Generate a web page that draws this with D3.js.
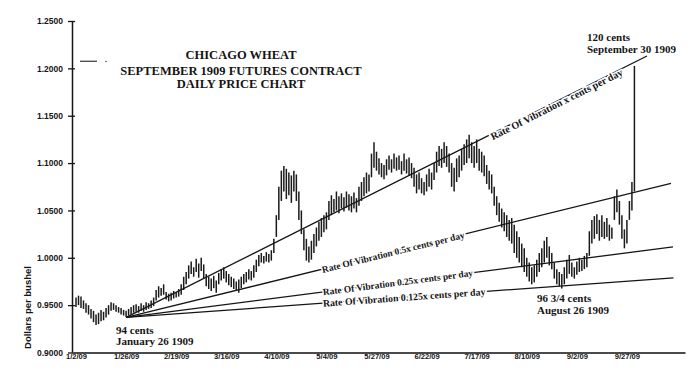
<!DOCTYPE html>
<html>
<head>
<meta charset="utf-8">
<script src="https://cdn.jsdelivr.net/npm/d3@7"></script>
<style>
  html, body { margin: 0; padding: 0; background: #fff; }
  svg { display: block; }
</style>
</head>
<body>
<script>
// ---- Data ----
const dateLabels = ["1/2/09","1/26/09","2/19/09","3/16/09","4/10/09","5/4/09","5/27/09","6/22/09","7/17/09","8/10/09","9/2/09","9/27/09"];
const dateIndex  = [0,20,40,60,80,100,120,140,160,180,200,220]; // trading-day index
const yTicks = [0.90,0.95,1.00,1.05,1.10,1.15,1.20,1.25];

// daily highs and lows, trading days 1/2/09 .. 9/30/09
const highs = [
 .958,.960,.959,.955,.952,.950,.946,.944,.940,.942,
 .945,.943,.947,.950,.953,.952,.950,.948,.947,.945,
 .944,.946,.948,.950,.951,.949,.952,.950,.953,.952,
 .955,.958,.966,.970,.968,.972,.964,.962,.963,.965,
 .964,.967,.972,.980,.985,.992,.996,.990,.999,.994,
 1.000,.993,.983,.980,.978,.981,.976,.984,.988,.990,
 .986,.983,.980,.978,.975,.977,.980,.983,.985,.988,
 .986,.992,.998,1.003,1.005,1.002,1.006,1.004,1.008,1.020,
 1.045,1.075,1.092,1.097,1.094,1.090,1.087,1.092,1.088,1.070,
 1.050,1.030,1.020,1.012,1.018,1.025,1.032,1.038,1.042,1.045,
 1.048,1.060,1.066,1.062,1.070,1.065,1.068,1.064,1.070,1.067,
 1.065,1.069,1.063,1.075,1.080,1.085,1.090,1.088,1.110,1.122,
 1.112,1.105,1.100,1.098,1.104,1.108,1.104,1.110,1.106,1.108,
 1.102,1.110,1.104,1.106,1.100,1.095,1.088,1.090,1.084,1.080,
 1.088,1.094,1.090,1.100,1.112,1.118,1.115,1.122,1.118,1.110,
 1.100,1.095,1.105,1.108,1.115,1.120,1.125,1.130,1.122,1.118,
 1.125,1.115,1.112,1.108,1.098,1.092,1.088,1.075,1.065,1.058,
 1.052,1.048,1.045,1.040,1.042,1.035,1.028,1.022,1.015,1.010,
 1.000,.995,.990,.992,.998,1.005,1.010,1.018,1.022,1.012,
 1.005,.995,.988,.985,.983,.990,.998,1.003,.995,.990,
 .996,1.000,.998,1.002,1.005,1.028,1.040,1.044,1.046,1.040,
 1.045,1.038,1.042,1.035,1.032,1.065,1.072,1.060,1.045,1.030,
 1.040,1.060,1.080,1.2025
];
const lows = [
 .948,.950,.947,.946,.942,.940,.936,.932,.929,.930,
 .933,.934,.937,.940,.944,.945,.943,.942,.940,.939,
 .9375,.939,.940,.942,.943,.942,.944,.943,.945,.946,
 .947,.949,.955,.958,.960,.961,.956,.954,.955,.957,
 .958,.959,.961,.966,.972,.978,.983,.980,.985,.979,
 .986,.978,.970,.967,.965,.968,.963,.972,.976,.978,
 .974,.971,.969,.967,.965,.963,.968,.972,.974,.977,
 .976,.979,.985,.991,.995,.994,.996,.995,.997,1.005,
 1.022,1.040,1.060,1.070,1.062,1.066,1.058,1.070,1.060,1.040,
 1.025,1.008,.997,.995,.998,1.005,1.012,1.018,1.022,1.027,
 1.030,1.040,1.045,1.048,1.050,1.047,1.052,1.049,1.053,1.050,
 1.048,1.052,1.048,1.055,1.060,1.065,1.068,1.070,1.085,1.095,
 1.092,1.088,1.085,1.083,1.087,1.093,1.090,1.094,1.092,1.093,
 1.088,1.092,1.089,1.087,1.084,1.075,1.068,1.072,1.068,1.066,
 1.070,1.075,1.072,1.082,1.090,1.097,1.095,1.100,1.096,1.090,
 1.075,1.070,1.080,1.085,1.092,1.098,1.100,1.105,1.100,1.095,
 1.100,1.092,1.090,1.086,1.078,1.072,1.068,1.055,1.045,1.038,
 1.032,1.028,1.022,1.018,1.015,1.005,1.000,.995,.990,.985,
 .980,.975,.972,.974,.980,.985,.990,.995,1.000,.992,
 .988,.978,.972,.970,.9675,.972,.978,.983,.980,.978,
 .982,.985,.986,.988,.990,1.002,1.015,1.020,1.025,1.018,
 1.022,1.020,1.022,1.018,1.020,1.040,1.048,1.035,1.020,1.010,
 1.015,1.040,1.050,1.070
];

// Rate-of-vibration lines from the Jan 26 low
const lineNames  = ["x","0.5x","0.25x","0.125x"];
const lineRates  = [0.001327, 0.000651, 0.000341, 0.000191]; // dollars per trading day
const lineStartIndex = 20;
const lineStartValue = 0.937;
const lineEndIndex   = [228, 237.6, 238.4, 238.6];
const labelStartIndex = [165.3, 98.2, 98.6, 98.6];
const labelFontSize   = [10.2, 9.4, 9.4, 9.8];
const labelDy         = ["0.6em", "0.4em", "0.35em", "0.35em"];

const titleLines = ["CHICAGO WHEAT","SEPTEMBER 1909 FUTURES CONTRACT","DAILY PRICE CHART"];

// ---- Drawing ----
const W = 700, H = 374;
const svg = d3.select("body").append("svg").attr("width", W).attr("height", H);
svg.append("rect").attr("width", W).attr("height", H).attr("fill", "#fff");

const x = d3.scaleLinear().domain([-1.6, 243.2]).range([72, 685]);
const y = d3.scaleLinear().domain([0.90, 1.25]).range([352.5, 21]);

const serif = "'Liberation Serif','Times New Roman',serif";
const sans  = "'Liberation Sans',Arial,sans-serif";
const ink = "#151515";

// title
svg.append("g").selectAll("text").data(titleLines).join("text")
  .attr("x", 241).attr("y", (d,i) => [59, 75, 88][i])
  .attr("text-anchor", "middle")
  .attr("font-family", serif).attr("font-weight", "bold").attr("font-size", 12.5)
  .attr("fill", ink).text(d => d);

// stray dash near the top-left (as in the scan)
svg.append("line").attr("x1", 80).attr("x2", 97).attr("y1", y(1.2075)).attr("y2", y(1.2075))
  .attr("stroke", "#333").attr("stroke-width", 1.2);
svg.append("circle").attr("cx", 106).attr("cy", y(1.2072)).attr("r", 0.8).attr("fill", "#444");

// y axis
const yAxis = svg.append("g").attr("transform", `translate(${x(-1.6)},0)`)
  .call(d3.axisLeft(y).tickValues(yTicks).tickFormat(d3.format(".4f")).tickSize(4).tickSizeOuter(0).tickPadding(5));
yAxis.select(".domain").attr("stroke", ink).attr("stroke-width", 1.5);
yAxis.selectAll(".tick line").attr("x1", 3).attr("x2", -4).attr("stroke", ink).attr("stroke-width", 1.3);
yAxis.selectAll(".tick text").attr("font-family", sans).attr("font-weight", "bold")
  .attr("font-size", 8.5).attr("fill", ink);

// x axis
const xAxis = svg.append("g").attr("transform", `translate(0,${y(0.90)})`)
  .call(d3.axisBottom(x).tickValues(dateIndex).tickFormat((d,i) => dateLabels[i]).tickSize(0).tickSizeOuter(0).tickPadding(1.5));
xAxis.select(".domain").attr("stroke", "#4a4a4a").attr("stroke-width", 2);
xAxis.selectAll(".tick text").attr("font-family", sans).attr("font-weight", "bold")
  .attr("font-size", 7.6).attr("fill", ink);

// y axis title
svg.append("text").attr("transform", `translate(31,${y(0.9475)}) rotate(-90)`)
  .attr("text-anchor", "middle").attr("font-family", sans).attr("font-weight", "bold")
  .attr("font-size", 9.5).attr("fill", ink).text("Dollars per bushel");

// rate lines
const lineVal = (k, i) => lineStartValue + lineRates[k] * (i - lineStartIndex);
svg.append("g").selectAll("line").data(lineNames).join("line")
  .attr("x1", x(lineStartIndex)).attr("y1", y(lineStartValue))
  .attr("x2", (d,k) => x(lineEndIndex[k])).attr("y2", (d,k) => y(lineVal(k, lineEndIndex[k])))
  .attr("stroke", ink).attr("stroke-width", 1.3);

// daily bars
const days = d3.range(highs.length);
svg.append("g").selectAll("line").data(days).join("line")
  .attr("x1", i => x(i)).attr("x2", i => x(i))
  .attr("y1", i => y(highs[i])).attr("y2", i => y(lows[i]))
  .attr("stroke", "#1a1a1a").attr("stroke-width", 1.5);

// rate line labels
lineNames.forEach((name, k) => {
  const i0 = labelStartIndex[k];
  const px = x(i0), py = y(lineVal(k, i0));
  const ang = Math.atan2(y(lineVal(k, i0 + 10)) - py, x(i0 + 10) - px) * 180 / Math.PI;
  svg.append("text")
    .attr("transform", `translate(${px},${py}) rotate(${ang})`)
    .attr("dy", labelDy[k])
    .attr("font-family", serif).attr("font-weight", "bold").attr("font-size", labelFontSize[k])
    .attr("fill", ink).attr("stroke", "#fff").attr("stroke-width", 3).attr("paint-order", "stroke")
    .text(`Rate Of Vibration ${name} cents per day`);
});

// annotations
const notes = [
  {t: ["94 cents", "January 26 1909"], x: 116, y: [334, 345]},
  {t: ["96 3/4 cents", "August 26 1909"], x: 537, y: [302, 313.5]},
  {t: ["120 cents", "September 30 1909"], x: 587, y: [41, 52.5]}
];
notes.forEach(n => {
  n.t.forEach((s, j) => {
    svg.append("text").attr("x", n.x).attr("y", n.y[j])
      .attr("font-family", serif).attr("font-weight", "bold").attr("font-size", 11)
      .attr("fill", ink).text(s);
  });
});
</script>
</body>
</html>
